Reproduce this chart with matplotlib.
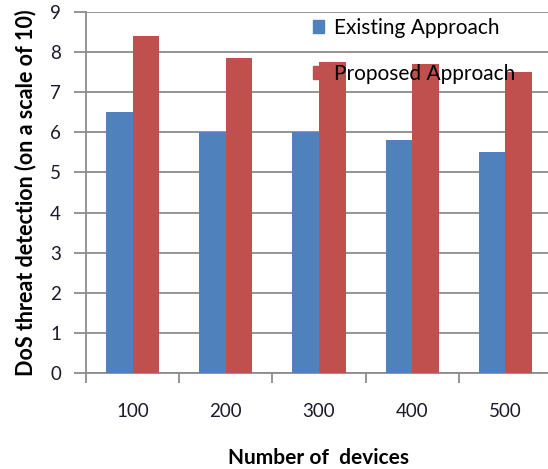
import numpy as np
import matplotlib.pyplot as plt
from matplotlib.patches import Patch

# values
devices = ['100', '200', '300', '400', '500']
existing = [6.5, 6.0, 6.0, 5.8, 5.5]
proposed = [8.4, 7.85, 7.75, 7.7, 7.5]

blue = '#4F81BD'
red = '#C0504D'
grey = '#8c8c8c'

plt.rcParams['font.family'] = ['Lato', 'DejaVu Sans']

fig = plt.figure(figsize=(5.48, 4.69), dpi=100)
ax = fig.add_axes([86 / 548, 1 - 372.7 / 469, 466 / 548, 360.4 / 469])

x = np.arange(len(devices)) + 0.5
w = 0.285
ax.bar(x - w / 2, existing, w, color=blue, zorder=3)
ax.bar(x + w / 2, proposed, w, color=red, zorder=3)

ax.set_xlim(0, len(devices))
ax.set_ylim(0, 9)
ax.set_yticks(range(0, 10))
ax.yaxis.grid(True, color=grey, linewidth=1.3, zorder=0)
ax.set_axisbelow(True)

# labels at category centres, tick marks at category boundaries
ax.set_xticks(x)
ax.set_xticklabels(devices)
ax.set_xticks(np.arange(len(devices) + 1), minor=True)
ax.tick_params(axis='x', which='major', length=0, pad=22, labelsize=13.5, labelcolor='#1a1a2a')
ax.tick_params(axis='x', which='minor', length=7, width=1.3, color=grey)
ax.tick_params(axis='y', length=9, width=1.3, color=grey, pad=9, labelsize=13.5, labelcolor='#1a1a2a')

for s in ['top', 'right']:
    ax.spines[s].set_visible(False)
for s in ['left', 'bottom']:
    ax.spines[s].set_color(grey)
    ax.spines[s].set_linewidth(1.3)

ax.set_xlabel('Number of  devices', fontsize=15, fontweight='bold', labelpad=20)
ax.set_ylabel('DoS threat detection (on a scale of 10)', fontsize=15.5, fontweight='bold', labelpad=10)

handles = [Patch(color=blue), Patch(color=red)]
fig.legend(handles, ['Existing Approach', 'Proposed Approach'], loc='upper left',
           bbox_to_anchor=(313 / 548, 1 - 18 / 469), frameon=False, fontsize=15,
           handlelength=0.55, handleheight=0.55, handletextpad=0.45, labelspacing=1.25,
           borderpad=0, borderaxespad=0)

fig.savefig('out.png', dpi=100)
